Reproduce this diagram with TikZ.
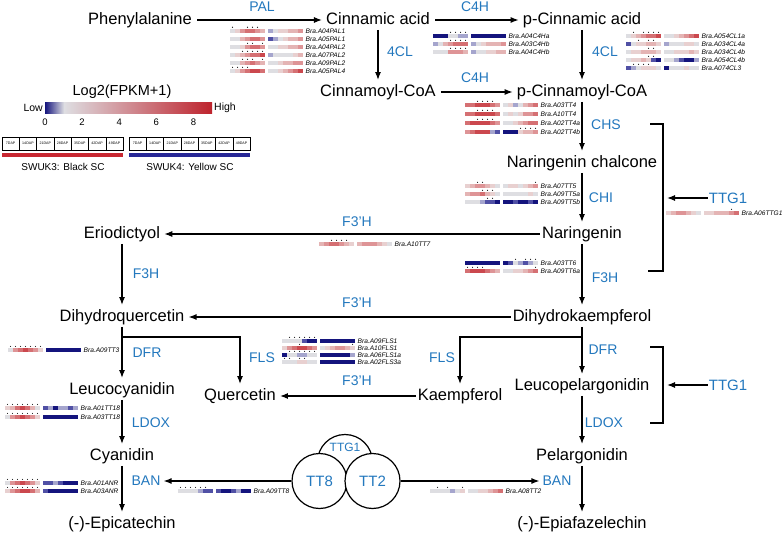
\documentclass[tikz,border=0pt]{standalone}
\usepackage{fontspec}
\setmainfont{Liberation Sans}
\usetikzlibrary{arrows.meta,calc}
\definecolor{enzblue}{RGB}{35,120,190}
\definecolor{hm0}{RGB}{20,20,125}
\definecolor{hm1}{RGB}{80,80,165}
\definecolor{hm2}{RGB}{165,165,205}
\definecolor{hm3}{RGB}{222,222,226}
\definecolor{hm4}{RGB}{232,208,208}
\definecolor{hm5}{RGB}{228,180,180}
\definecolor{hm6}{RGB}{222,148,150}
\definecolor{hm7}{RGB}{213,112,115}
\definecolor{hm8}{RGB}{203,72,78}
\definecolor{hm9}{RGB}{190,35,45}
\definecolor{barred}{RGB}{200,40,50}
\definecolor{barblue}{RGB}{40,40,150}
\tikzset{
  main/.style={font=\fontsize{16.5}{18}\selectfont, inner sep=2pt, text height=12pt, text depth=3.5pt},
  enz/.style={font=\fontsize{14}{16}\selectfont, text=enzblue, inner sep=1pt},
  arr/.style={-{Latex[length=8pt,width=6pt]}, line width=1.2pt, shorten >=2pt},
  ln/.style={line width=1.2pt},
  genelab/.style={font=\fontsize{6.6}{7}\selectfont\itshape, inner sep=0pt, anchor=west},
  circ/.style={circle, draw, line width=1.2pt, fill=white, minimum size=55pt, inner sep=0pt},
  dapbox/.style={draw, line width=0.6pt, minimum width=17.3pt, minimum height=13pt, inner sep=0pt, font=\fontsize{3.6}{4}\selectfont},
}
\newcommand{\hmrow}[5]{%
  \foreach \v [count=\i] in {#3} {%
    \pgfmathsetmacro{\xx}{#1+(\i-1)*5+(\i>7)*3}%
    \fill[fill=hm\v] (\xx,#2-2) rectangle ++(5.05,4);%
  }%
  \foreach \s in {#4} {%
    \ifnum\s>0
      \pgfmathsetmacro{\sx}{#1+(\s-1)*5+(\s>7)*3+2.5}%
      \fill (\sx,#2-3.7) circle (0.55);%
    \fi
  }%
  \node[genelab] at (#1+75.5,#2) {#5};%
}
\begin{document}
\begin{tikzpicture}[x=1pt,y=-1pt]
\useasboundingbox (0,0) rectangle (784,537);
\fill[white] (0,0) rectangle (784,537);

% ---------- compounds ----------
\node[main] (phe) at (140,20) {Phenylalanine};
\node[main] (cin) at (378,20) {Cinnamic acid};
\node[main] (pcin) at (582,20) {p-Cinnamic acid};
\node[main] (ccoa) at (378,92) {Cinnamoyl-CoA};
\node[main] (pcoa) at (582,92) {p-Cinnamoyl-CoA};
\node[main] (nchal) at (582,163) {Naringenin chalcone};
\node[main] (nar) at (582,234) {Naringenin};
\node[main] (erio) at (122,234) {Eriodictyol};
\node[main] (dhq) at (122,317) {Dihydroquercetin};
\node[main] (dhk) at (582,317) {Dihydrokaempferol};
\node[main] (leucy) at (122,390) {Leucocyanidin};
\node[main] (quer) at (240,396) {Quercetin};
\node[main] (kaem) at (460,396) {Kaempferol};
\node[main] (lpel) at (582,386) {Leucopelargonidin};
\node[main] (cya) at (122,456) {Cyanidin};
\node[main] (pel) at (582,456) {Pelargonidin};
\node[main] (epic) at (122,524) {(-)-Epicatechin};
\node[main] (epia) at (582,524) {(-)-Epiafazelechin};

% ---------- enzymes ----------
\node[enz] (pal) at (262,7) {PAL};
\node[enz] (c4ha) at (475,7) {C4H};
\node[enz] (cla) at (400,52) {4CL};
\node[enz] (clb) at (605,52) {4CL};
\node[enz] (c4hb) at (475,78) {C4H};
\node[enz] (chs) at (606,125) {CHS};
\node[enz] (chi) at (601,198) {CHI};
\node[enz] (fha) at (357,222) {F3’H};
\node[enz] (f3ha) at (146,274) {F3H};
\node[enz] (f3hb) at (605,278) {F3H};
\node[enz] (fhb) at (357,303) {F3’H};
\node[enz] (dfra) at (147,353) {DFR};
\node[enz] (dfrb) at (603,350) {DFR};
\node[enz] (flsa) at (262,358) {FLS};
\node[enz] (flsb) at (442,358) {FLS};
\node[enz] (fhc) at (357,381) {F3’H};
\node[enz] (ldoxa) at (151,423) {LDOX};
\node[enz] (ldoxb) at (604,423) {LDOX};
\node[enz] (bana) at (146,481) {BAN};
\node[enz] (banb) at (557,481) {BAN};
\node[enz, font=\fontsize{15}{17}\selectfont] (ttga) at (728,198) {TTG1};
\node[enz, font=\fontsize{15}{17}\selectfont] (ttgb) at (728,385) {TTG1};

% ---------- connectors ----------
\draw[arr, shorten <=3pt] (phe) -- (cin);
\draw[arr, shorten <=3pt] (cin) -- (pcin);
\draw[arr] (cin) -- (ccoa);
\draw[arr] (pcin) -- (pcoa);
\draw[arr, shorten <=3pt] (ccoa) -- (pcoa);
\draw[arr] (pcoa) -- (nchal);
\draw[arr] (nchal) -- (nar);
\draw[arr] (nar) -- (erio);
\draw[arr] (erio) -- (dhq);
\draw[arr] (nar) -- (dhk);
\draw[arr] (dhk) -- (dhq);
\draw[arr] (dhq) -- (leucy);
\coordinate (brq) at (122,337);
\draw[arr] (brq) -| (quer);
\draw[arr] (leucy) -- (cya);
\draw[arr] (cya) -- (epic);
\draw[arr] (dhk) -- (lpel);
\coordinate (brk) at (582,337);
\draw[arr] (brk) -| (kaem);
\draw[arr] (kaem) -- (quer);
\draw[arr] (lpel) -- (pel);
\draw[arr] (pel) -- (epia);

% brackets
\coordinate (b1a) at (650,124);
\coordinate (b1b) at (663,124);
\coordinate (b1c) at (663,271);
\coordinate (b1d) at (648,271);
\coordinate (b1m) at (663,198);
\draw[ln] (b1a) -- (b1b) -- (b1c) -- (b1d);
\draw[arr, shorten >=4pt] (ttga) -- (b1m);
\coordinate (b2a) at (650,347);
\coordinate (b2b) at (663,347);
\coordinate (b2c) at (663,423);
\coordinate (b2d) at (650,423);
\coordinate (b2m) at (663,385);
\draw[ln] (b2a) -- (b2b) -- (b2c) -- (b2d);
\draw[arr, shorten >=4pt] (ttgb) -- (b2m);

% MBW complex
\node[circ] (ttgc) at (345,462) {};
\node[circ, text=enzblue, font=\fontsize{15}{17}\selectfont] (tt8) at (319.5,481) {TT8};
\node[circ, text=enzblue, font=\fontsize{15}{17}\selectfont] (tt2) at (372.5,481) {TT2};
\node[text=enzblue, font=\fontsize{12}{14}\selectfont, inner sep=0pt] (ttgl) at (345,447) {TTG1};
\draw[arr, shorten <=0pt] (tt8) -- (bana);
\draw[arr, shorten <=0pt] (tt2) -- (banb);

% ---------- legend ----------
\node[font=\fontsize{14.5}{16}\selectfont] (lgt) at (122,92) {Log2(FPKM+1)};
\shade[left color=hm0, right color=hm3] (45,103) rectangle (64,114);
\shade[left color=hm3, right color=hm9] (64,103) rectangle (212,114);
\node[font=\fontsize{10.5}{12}\selectfont, anchor=east, inner sep=1pt] (low) at (44,108) {Low};
\node[font=\fontsize{10.5}{12}\selectfont, anchor=west, inner sep=1pt] (high) at (213,108) {High};
\foreach \t in {0,2,4,6,8} {
  \node[font=\fontsize{9.5}{11}\selectfont, inner sep=0pt] (tk\t) at (45+\t*18.56,122) {\t};
}
\foreach \lab [count=\i] in {7DAP,14DAP,21DAP,28DAP,35DAP,42DAP,49DAP} {
  \node[dapbox] (da\i) at (2+\i*17.3-8.65,143.5) {\lab};
  \node[dapbox] (db\i) at (129+\i*17.3-8.65,143.5) {\lab};
}
\fill[barred] (2,153) rectangle (123,157.5);
\fill[barblue] (129,153) rectangle (250,157.5);
\node[font=\fontsize{10}{12}\selectfont] (sw3) at (63,167) {SWUK3: Black SC};
\node[font=\fontsize{10}{12}\selectfont] (sw4) at (190,167) {SWUK4: Yellow SC};

% ---------- heatmaps ----------
% PAL
\hmrow{230}{31}{3,4,6,7,7,6,5,2,3,4,4,5,5,6}{1,4,5,6}{Bra.A04PAL1}
\hmrow{230}{39}{3,3,5,6,7,7,6,1,2,3,4,5,5,6}{0}{Bra.A05PAL1}
\hmrow{230}{47}{3,3,4,6,7,7,6,3,3,4,4,5,5,6}{4,5,7}{Bra.A04PAL2}
\hmrow{230}{55}{3,4,5,6,7,7,8,2,3,3,3,3,4,5}{3,4,5,6,7}{Bra.A07PAL2}
\hmrow{230}{63}{3,3,5,6,7,6,5,3,3,4,5,5,6,6}{3,4,5,7}{Bra.A09PAL2}
\hmrow{230}{71}{3,4,6,7,8,8,7,3,3,4,5,6,7,8}{1,2,3,4}{Bra.A05PAL4}
% C4H
\hmrow{433}{36}{0,0,0,3,3,2,2,0,0,0,0,0,0,0}{4,5,6,7}{Bra.A04C4Ha}
\hmrow{433}{44}{2,3,5,6,7,7,7,2,3,4,5,5,5,6}{4,5,6,7}{Bra.A03C4Hb}
\hmrow{433}{52}{3,3,3,6,6,6,5,2,3,3,4,4,5,5}{4,5,6,7}{Bra.A04C4Hb}
% 4CL
\hmrow{626}{36}{3,4,5,6,7,7,8,3,3,4,5,6,7,8}{2,4,5,6,7}{Bra.A054CL1a}
\hmrow{626}{44}{1,3,4,4,5,5,4,2,3,3,3,4,4,3}{3,5,6}{Bra.A034CL4a}
\hmrow{626}{52}{3,4,4,5,5,5,4,3,3,4,4,4,5,4}{5,6}{Bra.A034CL4b}
\hmrow{626}{60}{3,4,4,5,4,1,0,3,3,2,1,0,0,2}{5,6}{Bra.A054CL4b}
\hmrow{626}{68}{1,2,3,4,4,4,3,0,3,3,3,4,3,3}{2,3,4,5}{Bra.A074CL3}
% CHS
\hmrow{465}{105}{7,7,8,8,8,7,6,3,4,2,3,5,6,7}{3,4,5,6}{Bra.A03TT4}
\hmrow{465}{114}{7,7,8,8,8,8,7,3,4,3,4,6,6,7}{3,4,5,6}{Bra.A10TT4}
\hmrow{465}{123}{7,8,8,8,8,7,6,3,3,4,5,6,7,7}{3,4,5,6}{Bra.A02TT4a}
\hmrow{465}{132}{6,7,8,8,8,2,1,0,0,0,4,5,5,6}{11,12,13,14}{Bra.A02TT4b}
% CHI
\hmrow{465}{186}{4,5,6,6,5,4,3,3,4,4,3,4,5,6}{3,4,14}{Bra.A07TT5}
\hmrow{465}{194}{5,6,6,7,5,4,3,3,3,3,3,3,4,3}{4,5,6}{Bra.A09TT5a}
\hmrow{465}{202}{3,3,3,2,1,1,0,0,0,1,0,0,1,0}{5,6}{Bra.A09TT5b}
% TTG1
\hmrow{666}{213}{4,5,6,6,5,4,3,4,4,5,5,5,6,7}{13}{Bra.A06TTG1}
% F3'H
\hmrow{319}{244}{5,6,7,7,6,5,4,5,6,6,6,5,4,3}{3,4,5,6}{Bra.A10TT7}
% F3H
\hmrow{465}{263}{0,0,0,0,0,0,0,0,1,3,2,1,2,3}{10,12,13,14}{Bra.A03TT6}
\hmrow{465}{271}{7,8,8,8,7,6,5,3,3,4,4,5,6,7}{1,2,3,4,14}{Bra.A09TT6a}
% DFR
\hmrow{8}{350}{3,6,7,8,7,6,4,0,0,0,0,0,0,0}{1,2,3,4,5,6,7}{Bra.A09TT3}
% LDOX
\hmrow{5}{408}{4,5,7,8,7,5,3,1,2,0,2,2,1,2}{1,2,3,4,5,6,7}{Bra.A01TT18}
\hmrow{5}{417}{3,6,7,8,7,6,4,0,0,0,0,0,0,0}{1,2,3,4,5,6,7}{Bra.A03TT18}
% BAN
\hmrow{5}{483}{3,6,7,8,7,6,4,1,1,2,1,0,0,0}{1,2,3,4,5,6,7}{Bra.A01ANR}
\hmrow{5}{491}{4,6,7,8,8,7,5,1,0,0,0,0,0,0}{1,2,3,4,5,6,7}{Bra.A03ANR}
% FLS
\hmrow{282}{341}{3,3,3,3,1,0,0,0,0,0,0,0,0,0}{2,3,4,5,6,7}{Bra.A09FLS1}
\hmrow{282}{348}{4,6,7,8,8,7,6,3,4,5,6,6,5,4}{4,14}{Bra.A10FLS1}
\hmrow{282}{355}{0,3,3,2,2,3,3,0,0,0,0,0,0,2}{2,3,4,5,6,7}{Bra.A06FLS1a}
\hmrow{282}{362}{3,3,3,4,4,3,3,0,0,0,0,0,0,0}{1,2,4,5}{Bra.A02FLS3a}
% TT8, TT2
\hmrow{178}{491}{3,3,3,3,2,1,1,1,0,0,1,2,0,0}{1,2,3,4,5,6}{Bra.A09TT8}
\hmrow{430}{491}{3,3,3,3,2,3,4,3,3,4,4,5,6,7}{2,4,7}{Bra.A08TT2}
\end{tikzpicture}
\end{document}
